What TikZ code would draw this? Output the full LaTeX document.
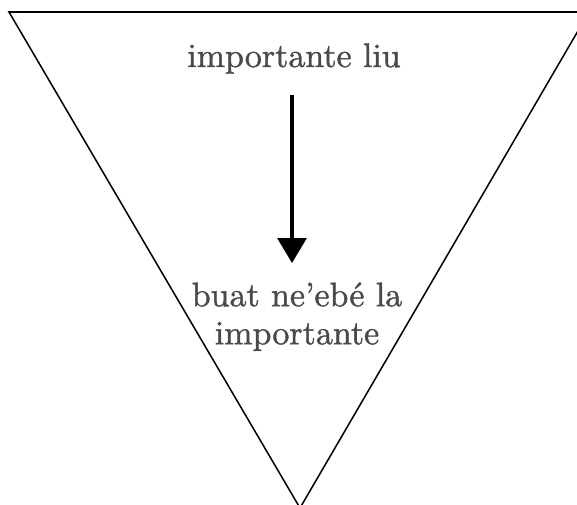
\documentclass[tikz,border=0pt]{standalone}
\usepackage{fontspec}
\newfontfamily\labelfont{lmroman10-regular.otf}[FakeBold=1.2, Ligatures=TeX]
\usetikzlibrary{arrows.meta, positioning}
\tikzset{
	label text/.style = {text=xgrey, font=\labelfont\fontsize{29}{32.5}\selectfont, align=center, inner sep=2pt},
	flow/.style = {line width=2.6pt, -{Triangle[width=0.87cm, length=0.75cm]}},
}
\definecolor{xgrey}{HTML}{4A4A4A}

\begin{document}
\begin{tikzpicture}
			\useasboundingbox (0,0) rectangle (17.31,-15.15);
			\clip (0,0) rectangle (17.31,-15.15);
			\coordinate (tl) at (0.27,-0.36);
			\coordinate (tr) at (17.67,-0.36);
			\coordinate (apex) at (9.0,-15.24);
			\draw[line width=1.3pt, line join=miter] (tl) -- (tr) -- (apex) -- cycle;
			\node[label text, anchor=base] (liu) at (8.82,-2.01) {importante liu};
			\node[label text, anchor=center] (labu) at (8.91,-9.5) {buat ne’ebé la\\importante};
			\coordinate (from) at (8.76,-2.85);
			\coordinate (to) at (8.76,-7.89);
			\draw[flow] (from) -- (to);
		\end{tikzpicture}
\end{document}
